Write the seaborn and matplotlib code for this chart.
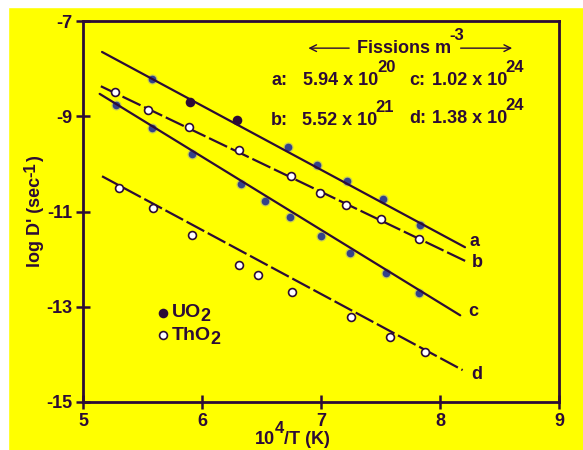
import seaborn as sns
import matplotlib.pyplot as plt

# fitted lines, endpoints (10^4/T, log D')
fit_x = {"a": [5.16, 8.21], "b": [5.15, 8.23], "c": [5.14, 8.17], "d": [5.16, 8.19]}
fit_y = {"a": [-7.65, -11.75], "b": [-8.37, -12.06], "c": [-8.53, -13.18], "d": [-10.26, -14.33]}

# UO2 points (filled) on line a
uo2_x = [5.90, 6.29]
uo2_y = [-8.70, -9.08]

# ThO2 points (open) on lines b and d
tho2_b_x = [5.27, 5.55, 5.89, 6.31, 6.75, 6.99, 7.21, 7.50, 7.82]
tho2_b_y = [-8.49, -8.87, -9.22, -9.71, -10.25, -10.61, -10.87, -11.16, -11.58]
tho2_d_x = [5.30, 5.59, 5.92, 6.31, 6.47, 6.76, 7.25, 7.58, 7.87]
tho2_d_y = [-10.51, -10.93, -11.50, -12.13, -12.34, -12.69, -13.22, -13.64, -13.95]

# smudged (bluish) points from the scanned original, lines a and c
smudge_x = [5.58, 6.72, 6.97, 7.22, 7.52, 7.83,
            5.28, 5.58, 5.92, 6.33, 6.53, 6.74, 7.00, 7.24, 7.55, 7.82]
smudge_y = [-8.22, -9.64, -10.03, -10.37, -10.74, -11.28,
            -8.76, -9.24, -9.80, -10.43, -10.77, -11.12, -11.52, -11.88, -12.30, -12.72]

# end labels of the lines
line_labels = ["a", "b", "c", "d"]
label_x = [8.25, 8.27, 8.24, 8.26]
label_y = [-11.62, -12.08, -13.11, -14.42]

# fission densities
fis_names = ["a:", "b:", "c:", "d:"]
fis_mant = ["5.94 x 10", "5.52 x 10", "1.02 x 10", "1.38 x 10"]
fis_exp = ["20", "21", "24", "24"]

x_ticks = [5, 6, 7, 8, 9]
y_ticks = [-7, -9, -11, -13, -15]

ink = "#2c0b36"
yellow = "#ffff00"
fs = 13

sns.set_theme(style="ticks")
plt.rcParams["font.family"] = ["Liberation Sans", "DejaVu Sans"]
plt.rcParams["font.weight"] = "bold"
plt.rcParams["axes.unicode_minus"] = False

fig = plt.figure(figsize=(5.83, 4.5), dpi=100, facecolor=yellow)
# white scan margins at top and left
fig.patches.append(plt.Rectangle((0, 1 - 7 / 450), 1, 7 / 450, transform=fig.transFigure,
                                 color="white", zorder=0))
fig.patches.append(plt.Rectangle((0, 0), 8 / 583, 1, transform=fig.transFigure,
                                 color="white", zorder=0))
ax = fig.add_axes([83 / 583, 1 - 402 / 450, (559 - 83) / 583, (402 - 21) / 450])
ax.set_facecolor(yellow)

# smudges first so the lines run over them
sns.scatterplot(x=smudge_x, y=smudge_y, ax=ax, color="#7f8cc4", s=52, alpha=0.45,
                linewidth=0, zorder=2)
sns.scatterplot(x=smudge_x, y=smudge_y, ax=ax, color="#34428a", s=30,
                linewidth=0, zorder=2)

for k in ["a", "b", "c", "d"]:
    sns.lineplot(x=fit_x[k], y=fit_y[k], ax=ax, color=ink, linewidth=1.6, zorder=3)
    if k in ("b", "d"):
        ax.lines[-1].set_dashes((9, 1.8))

sns.scatterplot(x=uo2_x, y=uo2_y, ax=ax, color=ink, s=48, linewidth=0, zorder=4)
sns.scatterplot(x=tho2_b_x + tho2_d_x, y=tho2_b_y + tho2_d_y, ax=ax, color="white",
                edgecolor=ink, s=32, linewidth=1.2, zorder=4)

for lab, lx, ly in zip(line_labels, label_x, label_y):
    ax.text(lx, ly, lab, color=ink, fontsize=fs, ha="left", va="center")


def sup_text(x, y, base, exp, dy=0.78):
    t = ax.text(x, y, base, color=ink, fontsize=fs, ha="left", va="center")
    ax.annotate(exp, xy=(0.98, dy), xycoords=t, color=ink, fontsize=fs - 1,
                ha="left", va="bottom")
    return t


# fission density table
name_x = [6.58, 6.58, 7.74, 7.74]
mant_x = [6.85, 6.84, 7.93, 7.93]
row_y = [-8.24, -9.08, -8.24, -9.04]
for nm, nx, mx, ry, m, e in zip(fis_names, name_x, mant_x, row_y, fis_mant, fis_exp):
    ax.text(nx, ry, nm, color=ink, fontsize=fs, ha="left", va="center")
    sup_text(mx, ry, m, e)

# Fissions m^-3 header with arrows
sup_text(7.30, -7.57, "Fissions m", "-3")
ax.annotate("", xy=(6.87, -7.57), xytext=(7.26, -7.57),
            arrowprops=dict(arrowstyle="->", color=ink, lw=1))
ax.annotate("", xy=(8.63, -7.57), xytext=(8.15, -7.57),
            arrowprops=dict(arrowstyle="->", color=ink, lw=1))

# legend
sns.scatterplot(x=[5.67], y=[-13.13], ax=ax, color=ink, s=48, linewidth=0, zorder=4)
sns.scatterplot(x=[5.67], y=[-13.60], ax=ax, color="white", edgecolor=ink, s=32,
                linewidth=1.2, zorder=4)
for ly, base in [(-13.13, "UO"), (-13.60, "ThO")]:
    t = ax.text(5.75, ly, base, color=ink, fontsize=fs + 1, ha="left", va="center")
    ax.annotate("2", xy=(0.97, -0.22), xycoords=t, color=ink, fontsize=fs,
                ha="left", va="bottom")

ax.set_xlim(5, 9)
ax.set_ylim(-15, -7)
ax.set_xticks(x_ticks)
ax.set_yticks(y_ticks)
ax.tick_params(direction="inout", length=10, width=1.8, color=ink, labelcolor=ink,
               labelsize=fs, pad=3)
for sp in ax.spines.values():
    sp.set_color(ink)
    sp.set_linewidth(2)

# axis titles with full-size exponents (placed in figure pixels)
yt = ax.annotate("log D' (sec", xy=(36, 450 - 222), xycoords="figure pixels",
                 rotation=90, color=ink, fontsize=fs, ha="center", va="center",
                 annotation_clip=False)
ye = ax.annotate("-1", xy=(0.2, 1), xycoords=yt, rotation=90, color=ink,
                 fontsize=fs - 1, ha="center", va="bottom", annotation_clip=False)
ax.annotate(")", xy=(0.5, 1), xycoords=(yt, ye), rotation=90, color=ink,
            fontsize=fs, ha="center", va="bottom", annotation_clip=False)

xt = ax.annotate("10", xy=(255, 450 - 440), xycoords="figure pixels", color=ink,
                 fontsize=fs, ha="left", va="center", annotation_clip=False)
xe = ax.annotate("4", xy=(1, 0.75), xycoords=xt, color=ink, fontsize=fs - 1,
                 ha="left", va="bottom", annotation_clip=False)
ax.annotate("/T (K)", xy=(1, 0.5), xycoords=(xe, xt), color=ink, fontsize=fs,
            ha="left", va="center", annotation_clip=False)

fig.savefig("out.png", dpi=100, facecolor=yellow)
